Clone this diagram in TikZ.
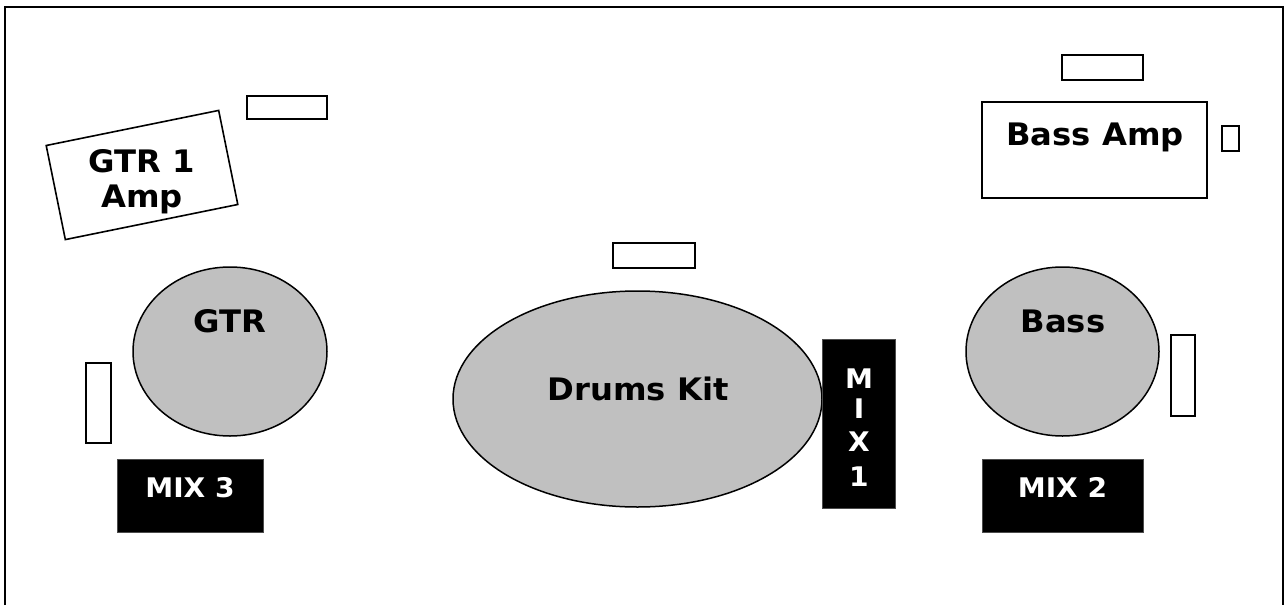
\documentclass[tikz,border=0pt]{standalone}
\usepackage{fontspec}
\setmainfont{DejaVu Sans}
\newfontfamily\lblfont{DejaVu Sans}[FakeStretch=1.04]
\usetikzlibrary{shapes.geometric}
\definecolor{silver}{HTML}{C0C0C0}
\begin{document}
\begin{tikzpicture}[x=1pt,y=-1pt,
  box/.style={draw=black,line width=1.6pt,fill=white,rectangle,inner sep=0pt,outer sep=0pt},
  player/.style={draw=black,line width=1.5pt,fill=silver,ellipse,inner sep=0pt,outer sep=0pt},
  mixbox/.style={draw=black!70,line width=0.8pt,fill=black,rectangle,inner sep=0pt,outer sep=0pt},
  lbl/.style={inner sep=0pt,anchor=base,font=\lblfont\fontsize{31}{31}\selectfont\bfseries},
  mixlbl/.style={inner sep=0pt,anchor=base,text=white,font=\lblfont\fontsize{27}{27}\selectfont\bfseries}]
\useasboundingbox (0,0) rectangle (1287,605);
\draw[line width=2pt] (5,605) -- (5,7) -- (1283,7) -- (1283,605);

% amps and monitors
\node[box,minimum width=176pt,minimum height=96pt,rotate=11.5] (amp1) at (142,175) {};
\node[box,minimum width=80pt,minimum height=23pt] (mon1) at (287,107.5) {};
\node[box,minimum width=82pt,minimum height=25pt] (mon2) at (654,255.5) {};
\node[box,minimum width=81pt,minimum height=25pt] (mon3) at (1102.5,67.5) {};
\node[box,minimum width=225pt,minimum height=96pt] (bassamp) at (1094.5,150) {};
\node[box,minimum width=17pt,minimum height=25pt] (mon4) at (1230.5,138.5) {};
\node[box,minimum width=25pt,minimum height=80pt] (mon5) at (98.5,403) {};
\node[box,minimum width=24pt,minimum height=81pt] (mon6) at (1183,375.5) {};

% players
\node[player,minimum width=194pt,minimum height=169pt] (gtr) at (230,351.5) {};
\node[player,minimum width=369pt,minimum height=216pt] (drums) at (637.5,399) {};
\node[player,minimum width=193pt,minimum height=169pt] (bass) at (1062.5,351.5) {};

% mixes
\node[mixbox,minimum width=73pt,minimum height=169pt] (mix1) at (858.5,423.5) {};
\node[mixbox,minimum width=146pt,minimum height=73pt] (mix3) at (190,495.5) {};
\node[mixbox,minimum width=161pt,minimum height=73pt] (mix2) at (1062.5,495.5) {};

% labels
\node[lbl] (tamp1a) at (142,172) {GTR 1};
\node[lbl] (tamp1b) at (142,207) {Amp};
\node[lbl] (tbassamp) at (1095,145) {Bass Amp};
\node[lbl] (tgtr) at (230,332) {GTR};
\node[lbl] (tdrums) at (638,400) {Drums Kit};
\node[lbl] (tbass) at (1063,332) {Bass};
\node[mixlbl] (tmix3) at (190,497) {MIX 3};
\node[mixlbl] (tmix2) at (1062.5,497) {MIX 2};
\node[mixlbl] (tm1a) at (859,388) {M};
\node[mixlbl] (tm1b) at (859,418) {I};
\node[mixlbl] (tm1c) at (859,451) {X};
\node[mixlbl] (tm1d) at (859,486) {1};
\end{tikzpicture}
\end{document}
